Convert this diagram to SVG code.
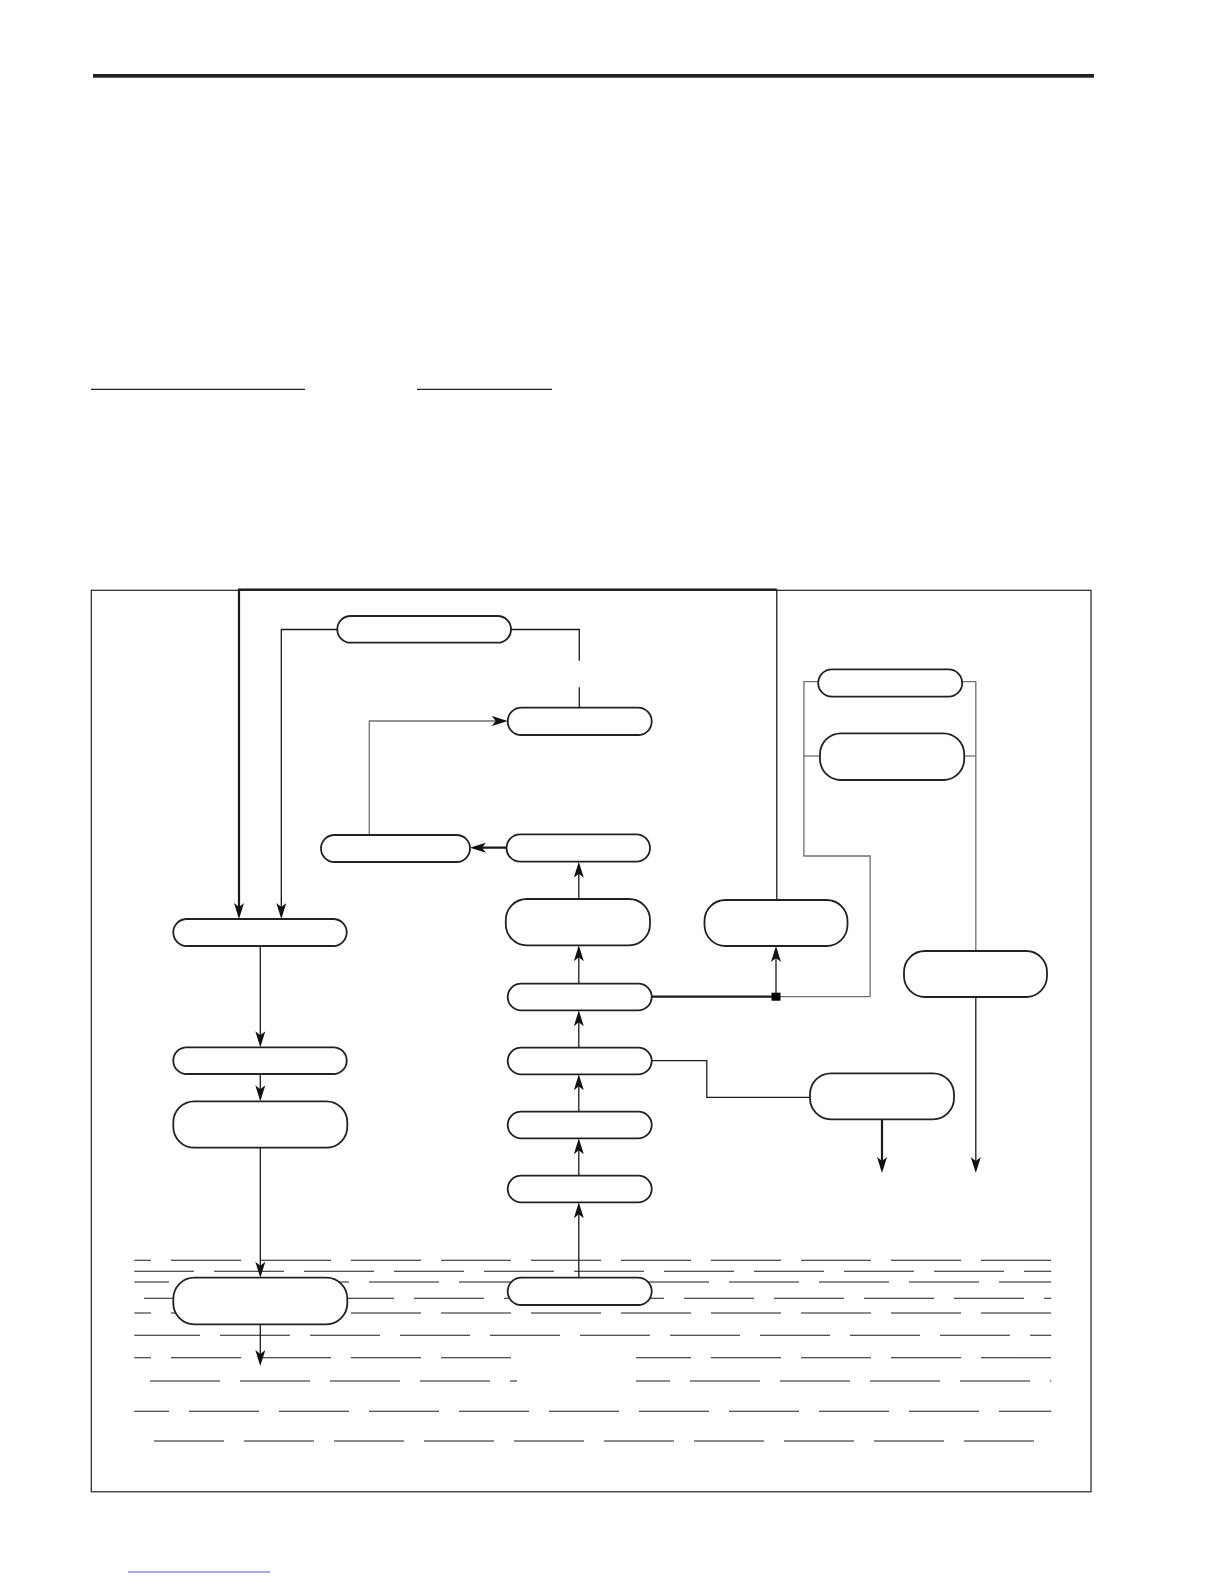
<svg xmlns="http://www.w3.org/2000/svg" width="1224" height="1584" viewBox="0 0 1224 1584">
<style>
.node{fill:#fff;stroke:#222;stroke-width:1.8}
.c{fill:none;stroke:#1a1a1a;stroke-width:1.3}
.th{stroke-width:2.2}
.gr{stroke:#707070}
.w{fill:none;stroke:#1a1a1a;stroke-width:1.1;stroke-dasharray:70 20}
.rule{stroke:#222;stroke-width:1.3}
</style>
<defs>
<marker id="ah" viewBox="0 0 16 10" refX="12" refY="5" markerWidth="16" markerHeight="10" markerUnits="userSpaceOnUse" orient="auto">
<path d="M0,0 L16,5 L0,10 L4,5 Z" fill="#111"/>
</marker>
<clipPath id="wc"><rect x="134.3" y="1250" width="917.2" height="200"/></clipPath>
</defs>
<rect width="1224" height="1584" fill="#fff"/>
<rect x="93" y="74" width="1001" height="3.7" fill="#222"/>
<line class="rule" x1="91" y1="389.3" x2="305" y2="389.3"/>
<line class="rule" x1="417" y1="389.3" x2="552" y2="389.3"/>
<line x1="128" y1="1572" x2="270" y2="1572" stroke="#4a5fc1" stroke-width="1"/>
<rect x="91.3" y="590.3" width="999.7" height="901.5" fill="none" stroke="#222" stroke-width="1.2"/>
<g id="water" clip-path="url(#wc)">
<path class="w" d="M81,1260.3 H1051.5"/>
<path class="w" d="M124,1271.3 H1051.5"/>
<path class="w" d="M99,1282 H1051.5"/>
<path class="w" d="M144,1298.3 H1051.5"/>
<path class="w" d="M81,1313 H1051.5"/>
<path class="w" d="M130,1335.3 H1051.5"/>
<path class="w" d="M81,1357.7 H517"/>
<path class="w" d="M636,1357.7 H1051.5" stroke-dashoffset="15"/>
<path class="w" d="M60,1381 H517"/>
<path class="w" d="M636,1381 H1051.5" stroke-dashoffset="36"/>
<path class="w" d="M99,1411.3 H1051.5"/>
<path class="w" d="M64,1441 H1051.5"/>
</g>
<g id="connectors">
<path class="c" d="M776.8,900 V589.5"/>
<path class="c th" d="M776.8,589.5 H239 V915" marker-end="url(#ah)"/>
<path class="c" d="M337.3,629.5 H281.3 V915" marker-end="url(#ah)"/>
<path class="c" d="M511,629.5 H579.3 V660.7"/>
<path class="c" d="M579.3,687.3 V707.7"/>
<path class="c gr" d="M369.3,835 V721 H503.7" marker-end="url(#ah)"/>
<path class="c th" d="M506.5,847.7 H474" marker-end="url(#ah)"/>
<path class="c" d="M578.8,899 V865.7" marker-end="url(#ah)"/>
<path class="c" d="M578.8,983.7 V949.3" marker-end="url(#ah)"/>
<path class="c" d="M578.8,1047.7 V1014.3" marker-end="url(#ah)"/>
<path class="c" d="M578.8,1111.7 V1078.3" marker-end="url(#ah)"/>
<path class="c" d="M578.8,1175.7 V1142.3" marker-end="url(#ah)"/>
<path class="c" d="M578.8,1277.7 V1206.3" marker-end="url(#ah)"/>
<path class="c th" d="M651.7,996.7 H776"/>
<path class="c" d="M776,996.7 V950" marker-end="url(#ah)"/>
<path class="c gr" d="M776,996.7 H870.1 V856 H803.9 V681.7 H818.2"/>
<path class="c gr" d="M803.9,756 H820"/>
<path class="c gr" d="M962.3,681.7 H975.8 V951"/>
<path class="c gr" d="M964.2,756 H975.8"/>
<path class="c" d="M975.8,997 V1169" marker-end="url(#ah)"/>
<path class="c th" d="M882,1119.3 V1169" marker-end="url(#ah)"/>
<path class="c" d="M651.7,1060.7 H706.8 V1097.3 H810"/>
<path class="c" d="M260.3,946 V1043.3" marker-end="url(#ah)"/>
<path class="c" d="M260.3,1074 V1097.3" marker-end="url(#ah)"/>
<path class="c" d="M260.3,1147.7 V1273.7" marker-end="url(#ah)"/>
<path class="c" d="M260.3,1324.3 V1362" marker-end="url(#ah)"/>
<rect x="771.5" y="992.7" width="9" height="8" fill="#000"/>
</g>
<g id="nA"><rect class="node" x="337.3" y="616" width="173.7" height="26.7" rx="13.3"/></g>
<g id="nB"><rect class="node" x="507.7" y="707.7" width="144" height="27.3" rx="13.6"/></g>
<g id="nC"><rect class="node" x="321" y="835" width="149" height="27" rx="13.5"/></g>
<g id="nD"><rect class="node" x="506.5" y="834.3" width="143.5" height="27.4" rx="13.7"/></g>
<g id="nE"><rect class="node" x="818.2" y="669.3" width="144" height="27.4" rx="13.7"/></g>
<g id="nF"><rect class="node" x="820" y="733.3" width="144.2" height="46.7" rx="21"/></g>
<g id="nH"><rect class="node" x="505.8" y="899" width="144.2" height="46.3" rx="21"/></g>
<g id="nI"><rect class="node" x="507.7" y="983.7" width="144" height="26.6" rx="13.3"/></g>
<g id="nJ"><rect class="node" x="507.7" y="1047.7" width="144" height="26.6" rx="13.3"/></g>
<g id="nK"><rect class="node" x="507.7" y="1111.7" width="144" height="26.6" rx="13.3"/></g>
<g id="nL"><rect class="node" x="507.7" y="1175.7" width="144" height="26.6" rx="13.3"/></g>
<g id="nM"><rect class="node" x="507.7" y="1277.7" width="144" height="27.3" rx="13.6"/></g>
<g id="nN"><rect class="node" x="704.5" y="900" width="143" height="46" rx="21"/></g>
<g id="nG"><rect class="node" x="904" y="951" width="143" height="46" rx="21"/></g>
<g id="nO"><rect class="node" x="810" y="1073.3" width="144" height="46" rx="21"/></g>
<g id="nP"><rect class="node" x="173.3" y="919" width="173.4" height="27" rx="13.5"/></g>
<g id="nQ"><rect class="node" x="173.3" y="1047.3" width="173.4" height="26.7" rx="13.3"/></g>
<g id="nR"><rect class="node" x="173.3" y="1101.3" width="174" height="46.4" rx="21"/></g>
<g id="nS"><rect class="node" x="173.3" y="1277.7" width="174" height="46.6" rx="21"/></g>
</svg>
